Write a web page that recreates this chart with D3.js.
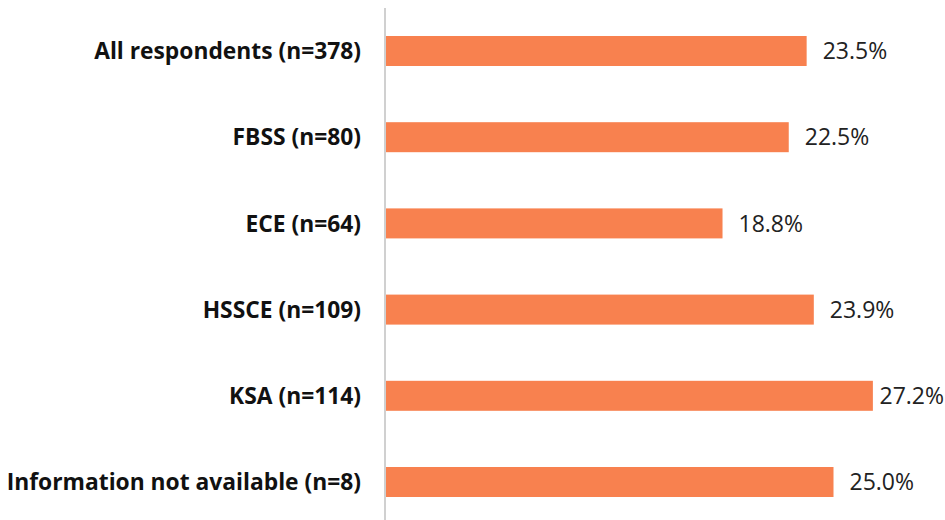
<!DOCTYPE html>
<html>
<head>
<meta charset="utf-8">
<script src="https://cdn.jsdelivr.net/npm/d3@7"></script>
<style>
  body { margin: 0; background: #fff; }
  svg { display: block; }
</style>
</head>
<body>
<div id="chart"></div>
<script>
// Chart data
const categories = [
  "All respondents (n=378)",
  "FBSS (n=80)",
  "ECE (n=64)",
  "HSSCE (n=109)",
  "KSA (n=114)",
  "Information not available (n=8)"
];
const values = [23.5, 22.5, 18.8, 23.9, 27.2, 25.0];

const width = 945,
  height = 520;

const svg = d3
  .select("#chart")
  .append("svg")
  .attr("width", width)
  .attr("height", height);

// Scales
const x = d3.scaleLinear().domain([0, 30]).range([386, 386 + 537]);
const y = d3.scalePoint().domain(categories).range([51, 482]);
const barHeight = 30;

// Vertical axis line
svg
  .append("line")
  .attr("x1", 385)
  .attr("x2", 385)
  .attr("y1", 8)
  .attr("y2", height)
  .attr("stroke", "#d0d0d0")
  .attr("stroke-width", 2);

// Bars
svg
  .selectAll(".bar")
  .data(values)
  .enter()
  .append("rect")
  .attr("class", "bar")
  .attr("x", x(0))
  .attr("y", (d, i) => y(categories[i]) - barHeight / 2)
  .attr("width", (d) => x(d) - x(0))
  .attr("height", barHeight)
  .attr("fill", "#f8814f");

// Category labels
svg
  .selectAll(".cat")
  .data(categories)
  .enter()
  .append("text")
  .attr("class", "cat")
  .attr("x", 361)
  .attr("y", (d) => y(d))
  .attr("dy", "0.36em")
  .attr("text-anchor", "end")
  .style("font-family", "'Open Sans', sans-serif")
  .style("font-weight", "bold")
  .style("font-size", "22.8px")
  .style("fill", "#111")
  .text((d) => d);

// Value labels (pulled in if they would run past the right edge)
svg
  .selectAll(".val")
  .data(values)
  .enter()
  .append("text")
  .attr("class", "val")
  .attr("y", (d, i) => y(categories[i]))
  .attr("dy", "0.36em")
  .style("font-family", "'Open Sans', sans-serif")
  .style("font-size", "23px")
  .style("fill", "#222")
  .text((d) => d.toFixed(1) + "%")
  .attr("x", function (d) {
    const w = this.getComputedTextLength();
    return Math.min(x(d) + 16, width - 1 - w);
  });
</script>
</body>
</html>
